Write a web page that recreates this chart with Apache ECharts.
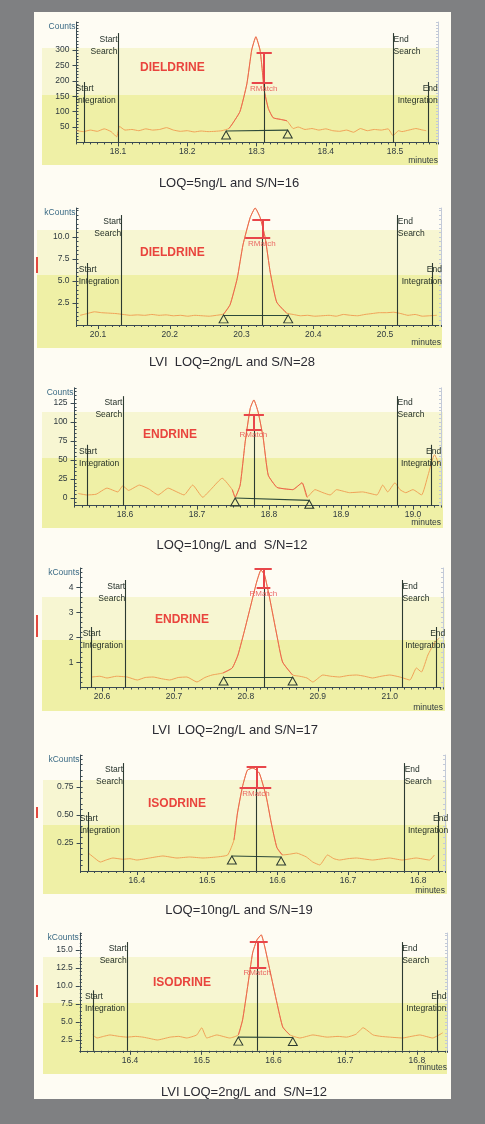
<!DOCTYPE html>
<html>
<head>
<meta charset="utf-8">
<script src="https://cdn.jsdelivr.net/npm/echarts@6/dist/echarts.min.js"></script>
<style>
html,body{margin:0;padding:0;background:#7f8082;}
#main{width:485px;height:1124px;}
</style>
</head>
<body>
<div id="main"></div>
<script>
// --- trace data (minutes / counts) ---
var time1 = [18.04,18.05,18.06,18.07,18.08,18.09,18.098,18.102,18.11,18.12,18.13,18.14,18.15,18.16,18.17,18.18,18.19,18.20,18.21,18.22,18.23,18.24,18.25,18.26,18.265,18.276,18.286,18.293,18.299,18.305,18.308,18.311,18.317,18.324,18.334,18.344,18.353,18.36,18.37,18.38,18.39,18.40,18.41,18.42,18.43,18.44,18.45,18.46,18.47,18.48,18.49,18.497,18.505,18.51,18.52,18.53,18.54,18.545];
var sig1 = [38,35,40,36,44,35,18,52,40,42,38,44,40,42,48,40,36,38,34,37,35,36,38,45,60,100,190,300,343,300,240,170,110,80,75,70,45,50,42,45,40,44,38,36,40,33,45,38,42,40,44,22,38,35,40,45,40,38];

var time2 = [20.075,20.085,20.095,20.105,20.115,20.125,20.135,20.145,20.155,20.165,20.175,20.185,20.195,20.205,20.215,20.225,20.235,20.245,20.255,20.265,20.275,20.284,20.294,20.302,20.312,20.319,20.326,20.333,20.340,20.349,20.363,20.372,20.382,20.392,20.402,20.412,20.422,20.432,20.442,20.452,20.462,20.472,20.482,20.492,20.502,20.512,20.522,20.532,20.542,20.552,20.562,20.572];
var sig2 = [1.1,1.3,1.5,1.4,1.35,1.3,1.2,1.1,1.15,1.1,1.2,1.1,1.15,1.05,1.1,1.0,1.1,1.05,1.0,1.1,1.25,2.3,5.3,9.1,12.2,13.3,12.2,9.9,6.0,2.6,1.35,1.2,1.05,1.1,1.0,1.05,1.1,1.0,1.2,1.1,1.05,1.2,1.3,1.4,1.4,1.45,1.3,1.1,1.2,1.0,1.05,1.1];

var time3 = [18.535,18.547,18.56,18.575,18.59,18.597,18.605,18.62,18.633,18.646,18.66,18.672,18.682,18.694,18.708,18.72,18.735,18.749,18.753,18.76,18.767,18.774,18.779,18.785,18.792,18.799,18.811,18.822,18.833,18.846,18.853,18.864,18.875,18.885,18.894,18.903,18.912,18.93,18.95,18.958,18.965,18.975,18.982,18.99,19.0,19.012,19.021,19.03,19.036];
var sig3 = [6,4,5,13,8,16,10,17,12,4,13,8,4,17,1,12,26,11,1,17,74,118,129,113,79,30,14,12,11,20,1,11,7,4,11,9,7,8,4,17,8,20,11,7,11,4,30,57,45];

var time4 = [20.586,20.597,20.607,20.62,20.635,20.649,20.66,20.671,20.683,20.694,20.706,20.718,20.732,20.743,20.753,20.768,20.781,20.789,20.799,20.808,20.815,20.821,20.826,20.833,20.843,20.851,20.865,20.875,20.885,20.893,20.907,20.918,20.93,20.942,20.954,20.965,20.976,20.988,21.0,21.014,21.028,21.037,21.044,21.053,21.063,21.069];
var sig4 = [0.42,0.45,0.38,0.45,0.42,0.3,0.4,0.42,0.35,0.3,0.4,0.42,0.22,0.4,0.5,0.58,0.78,1.3,2.38,3.42,4.22,4.7,4.5,3.58,2.1,1.02,0.5,0.45,0.38,0.22,0.5,0.45,0.42,0.48,0.5,0.45,0.38,0.45,0.5,0.42,0.3,0.78,0.62,1.3,1.82,1.98];

var time5 = [16.331,16.338,16.348,16.357,16.366,16.38,16.39,16.4,16.418,16.437,16.457,16.475,16.494,16.513,16.529,16.538,16.543,16.55,16.557,16.565,16.574,16.584,16.591,16.599,16.607,16.617,16.627,16.641,16.65,16.66,16.671,16.68,16.688,16.7,16.712,16.735,16.759,16.777,16.797,16.816,16.823];
var sig5 = [0.16,0.125,0.08,0.1,0.116,0.105,0.11,0.098,0.116,0.134,0.116,0.125,0.116,0.125,0.143,0.277,0.518,0.75,0.9,0.92,0.875,0.66,0.43,0.21,0.143,0.15,0.16,0.125,0.08,0.054,0.143,0.11,0.098,0.11,0.116,0.098,0.116,0.098,0.116,0.098,0.143];

var time6 = [16.348,16.354,16.363,16.372,16.385,16.396,16.408,16.418,16.428,16.438,16.456,16.468,16.479,16.493,16.5,16.507,16.521,16.539,16.551,16.557,16.564,16.571,16.577,16.583,16.588,16.595,16.605,16.613,16.623,16.637,16.655,16.675,16.69,16.702,16.715,16.725,16.739,16.75,16.762,16.78,16.792,16.804,16.822,16.836];
var sig6 = [3.2,2.78,3.0,3.2,3.0,2.9,3.0,2.9,2.7,2.5,2.9,3.0,2.78,3.2,4.2,2.78,3.2,2.78,3.2,5.3,9.9,14.6,16.4,17.1,15.4,12.2,7.6,4.3,3.2,2.78,3.2,2.9,3.0,2.9,3.3,4.2,3.2,3.0,2.9,2.78,3.0,3.2,2.78,3.5];

var traceTimes = [time1, time2, time3, time4, time5, time6];
var traceSignals = [sig1, sig2, sig3, sig4, sig5, sig6];

// texts
var compounds = ['DIELDRINE', 'DIELDRINE', 'ENDRINE', 'ENDRINE', 'ISODRINE', 'ISODRINE'];
var captions = ['LOQ=5ng/L and S/N=16', 'LVI  LOQ=2ng/L and S/N=28', 'LOQ=10ng/L and  S/N=12',
  'LVI  LOQ=2ng/L and S/N=17', 'LOQ=10ng/L and S/N=19', 'LVI LOQ=2ng/L and  S/N=12'];
var unitNames = ['Counts', 'kCounts', 'Counts', 'kCounts', 'kCounts', 'kCounts'];

// axes
var xMin = [18.04, 20.07, 18.53, 20.57, 16.32, 16.33];
var xMax = [18.562, 20.578, 19.039, 21.074, 16.838, 16.842];
var xTicks = [[18.1,18.2,18.3,18.4,18.5], [20.1,20.2,20.3,20.4,20.5], [18.6,18.7,18.8,18.9,19.0],
  [20.6,20.7,20.8,20.9,21.0], [16.4,16.5,16.6,16.7,16.8], [16.4,16.5,16.6,16.7,16.8]];
var yMin = [0, 0, -10, 0, 0, 1];
var yMax = [391, 13.3, 145, 4.78, 1.036, 17.36];
var yTicks = [[50,100,150,200,250,300], [2.5,5,7.5,10], [0,25,50,75,100,125],
  [1,2,3,4], [0.25,0.5,0.75], [2.5,5,7.5,10,12.5,15]];
var yDecimals = [0, 1, 0, 0, 2, 1];
var yMinorStep = [10, 0.5, 5, 0.2, 0.05, 0.5];

// integration / search events
var eventNames = ['Start\nIntegration', 'Start\nSearch', 'End\nSearch', 'End\nIntegration'];
var eventTimes = [[18.051,18.1,18.497,18.548], [20.085,20.133,20.517,20.566], [18.548,18.597,18.978,19.026],
  [20.585,20.633,21.017,21.064], [16.331,16.381,16.78,16.829], [16.349,16.396,16.779,16.828]];
var eventTops = [[196,355,355,196], [7.05,12.5,12.5,7.05], [70,134,134,70],
  [2.42,4.3,4.3,2.42], [0.527,0.964,0.964,0.527], [9.4,16.1,16.1,9.4]];

// peak identification marks
var peakTimes = [18.311, 20.329, 18.779, 20.825, 16.570, 16.578];
var markTop = [290, 12.0, 109, 4.74, 0.93, 16.1];
var markLow = [193, 9.9, 90, 3.98, 0.74, 12.6];
var topBar = [[18.300,18.322], [20.315,20.340], [18.765,18.793], [20.812,20.836], [16.556,16.584], [16.567,16.592]];
var lowBar = [[18.293,18.323], [20.305,20.340], [18.768,18.790], [20.815,20.834], [16.546,16.591], [16.567,16.590]];
var triTimes = [[18.256,18.345], [20.275,20.365], [18.753,18.856], [20.769,20.865], [16.535,16.605], [16.551,16.627]];
var triLevels = [[37,40], [1.15,1.15], [0,-3], [0.42,0.42], [0.134,0.125], [2.9,2.85]];

// --- layout (pixels) ---
var gridBox = [[76.5,438,22,142.4], [76.5,441,208,325], [74.6,441,387.8,505.6],
  [80.4,443,568,687.5], [80.6,445,755,871], [79.8,447,933,1050.8]];
var bandBox = [[48,95,165,42,438], [230,275,348,37,442], [412,458,528,42,443],
  [597,640,711,42,445], [780,825,894,43,447], [957,1003,1074,43,447]];
var titlePos = [[140,68], [140,253], [143,435], [155,620], [148,804], [153,983]];
var captionPos = [[229,183], [232,362], [232,545], [235,730], [239,910], [244,1092]];
var redMarks = [null, [257,273], null, [615,637], [807,818], [985,997]];
var minutesPad = [14, 13, 13, 16, 15, 12];

var font = '"Liberation Sans", Arial, sans-serif';
var dark = '#2c3a31';
var axisColor = '#3a4a52';
var eventLabelStyle = [
  { align: 'left', offset: [-8, 1] },
  { align: 'right', offset: [0, 1] },
  { align: 'left', offset: [1, 1] },
  { align: 'right', offset: [10, 1] }
];

var chart = echarts.init(document.getElementById('main'));
var grids = [], xAxes = [], yAxes = [], series = [], graphics = [];

graphics.push({ type: 'rect', z: -100, silent: true, shape: { x: 34, y: 12, width: 417, height: 1087 }, style: { fill: '#fefcf3' } });

for (var i = 0; i < 6; i++) {
  var g = gridBox[i];
  grids.push({ left: g[0], top: g[2], width: g[1] - g[0], height: g[3] - g[2], outerBoundsMode: 'none' });

  // x axis with minor ticks + labels
  xAxes.push({
    type: 'value', gridIndex: i, position: 'bottom', min: xMin[i], max: xMax[i], interval: 0.01,
    axisLine: { show: true, onZero: false, lineStyle: { color: axisColor, width: 1 } },
    axisTick: { show: true, length: 2, lineStyle: { color: axisColor } },
    axisLabel: { show: true, customValues: xTicks[i], fontSize: 8.5, margin: 5, color: '#2f3a40', fontFamily: font,
      formatter: function (v) { return v.toFixed(1); } },
    splitLine: { show: false }
  });
  // x axis major ticks + name
  xAxes.push({
    type: 'value', gridIndex: i, position: 'bottom', min: xMin[i], max: xMax[i],
    axisLine: { show: false, onZero: false },
    axisTick: { show: true, customValues: xTicks[i], length: 4, lineStyle: { color: axisColor } },
    axisLabel: { show: false }, splitLine: { show: false },
    name: 'minutes', nameLocation: 'end', nameGap: 0, nameMoveOverlap: false,
    nameTextStyle: { align: 'right', verticalAlign: 'top', padding: [minutesPad[i], 0, 0, 0], fontSize: 8.5, color: '#2f3a40', fontFamily: font }
  });

  (function (dec) {
    yAxes.push({
      type: 'value', gridIndex: i, position: 'left', min: yMin[i], max: yMax[i], interval: yMinorStep[i],
      axisLine: { show: true, onZero: false, lineStyle: { color: axisColor, width: 1 } },
      axisTick: { show: true, inside: true, length: 2, lineStyle: { color: axisColor } },
      axisLabel: { show: true, customValues: yTicks[i], fontSize: 8.5, margin: 7, color: '#2f3a40', fontFamily: font,
        formatter: function (v) { return v.toFixed(dec); } },
      splitLine: { show: false },
      name: unitNames[i], nameLocation: 'end', nameGap: -5, nameMoveOverlap: false,
      nameTextStyle: { align: 'right', verticalAlign: 'middle', padding: [0, 1, 0, 0], fontSize: 8.5, color: '#3b6b85', fontFamily: font }
    });
  })(yDecimals[i]);
  yAxes.push({
    type: 'value', gridIndex: i, position: 'left', min: yMin[i], max: yMax[i],
    axisLine: { show: false, onZero: false },
    axisTick: { show: true, customValues: yTicks[i], length: 4, lineStyle: { color: axisColor } },
    axisLabel: { show: false }, splitLine: { show: false }
  });
  yAxes.push({
    type: 'value', gridIndex: i, position: 'right', min: yMin[i], max: yMax[i], interval: yMinorStep[i],
    axisLine: { show: true, onZero: false, lineStyle: { color: '#c3cad8' } },
    axisTick: { show: true, inside: true, length: 2, lineStyle: { color: '#c3cad8' } },
    axisLabel: { show: false }, splitLine: { show: false }
  });

  var times = traceTimes[i], sigs = traceSignals[i];
  var pts = times.map(function (t, k) { return [t, sigs[k]]; });
  var peakPts = pts.filter(function (p) { return p[0] >= triTimes[i][0] - 0.004 && p[0] <= triTimes[i][1] + 0.004; });
  var ymn = yMin[i];

  var lines = eventTimes[i].map(function (t, k) {
    return [{ coord: [t, ymn] }, { coord: [t, eventTops[i][k]] }];
  });
  lines.push([{ coord: [triTimes[i][0], triLevels[i][0]], lineStyle: { color: '#2d4a3a', width: 1.2 } }, { coord: [triTimes[i][1], triLevels[i][1]] }]);
  lines.push([{ coord: [peakTimes[i], ymn] }, { coord: [peakTimes[i], markLow[i]] }]);

  var points = eventTimes[i].map(function (t, k) {
    return {
      coord: [t, eventTops[i][k]], symbol: 'rect', symbolSize: 1, itemStyle: { color: 'rgba(0,0,0,0)' },
      label: { show: true, formatter: eventNames[k], position: [0, 0], align: eventLabelStyle[k].align, verticalAlign: 'top',
        offset: eventLabelStyle[k].offset, fontSize: 8.5, lineHeight: 12, color: '#1f2b24', fontFamily: font }
    };
  });
  for (var j = 0; j < 2; j++) {
    points.push({
      coord: [triTimes[i][j], triLevels[i][j]], symbol: 'triangle', symbolSize: [9, 8], symbolOffset: [0, 4],
      itemStyle: { color: 'rgba(0,0,0,0)', borderColor: dark, borderWidth: 1 }, label: { show: false }
    });
  }

  series.push({
    type: 'line', xAxisIndex: 2 * i, yAxisIndex: 3 * i, data: pts, showSymbol: false, symbol: 'none',
    smooth: 0.15, lineStyle: { color: '#f0a258', width: 1 }, z: 3, silent: true,
    markLine: { silent: true, symbol: ['none', 'none'], label: { show: false }, emphasis: { disabled: true },
      lineStyle: { color: dark, width: 1.1, type: 'solid' }, data: lines },
    markPoint: { silent: true, data: points }
  });

  series.push({
    type: 'line', xAxisIndex: 2 * i, yAxisIndex: 3 * i, data: peakPts, showSymbol: false, symbol: 'none',
    smooth: 0.15, lineStyle: { color: '#ea5a4e', width: 1, opacity: 0.85 }, z: 4, silent: true,
    markLine: { silent: true, symbol: ['none', 'none'], label: { show: false }, emphasis: { disabled: true },
      lineStyle: { color: '#e8464a', width: 2, type: 'solid' },
      data: [
        [{ coord: [topBar[i][0], markTop[i]] }, { coord: [topBar[i][1], markTop[i]] }],
        [{ coord: [peakTimes[i], markTop[i]] }, { coord: [peakTimes[i], markLow[i]] }],
        [{ coord: [lowBar[i][0], markLow[i]] }, { coord: [lowBar[i][1], markLow[i]] }]
      ] },
    markPoint: { silent: true, data: [{
      coord: [peakTimes[i], markLow[i]], symbol: 'rect', symbolSize: 1, itemStyle: { color: 'rgba(0,0,0,0)' },
      label: { show: true, formatter: 'RMatch', position: [0, 0], align: 'center', verticalAlign: 'top', offset: [0, 2],
        fontSize: 8, color: 'rgba(232,80,80,0.85)', fontFamily: font }
    }] }
  });

  // decoration: highlighted bands, red margin marks, texts
  var b = bandBox[i];
  graphics.push({ type: 'rect', z: -90, silent: true, shape: { x: b[3], y: b[0], width: b[4] - b[3], height: b[1] - b[0] }, style: { fill: '#f7f6d2' } });
  graphics.push({ type: 'rect', z: -90, silent: true, shape: { x: b[3], y: b[1], width: b[4] - b[3], height: b[2] - b[1] }, style: { fill: '#eff0a6' } });
  if (redMarks[i]) {
    graphics.push({ type: 'rect', z: 10, silent: true, shape: { x: 36, y: redMarks[i][0], width: 2, height: redMarks[i][1] - redMarks[i][0] }, style: { fill: '#e2483e' } });
  }
  graphics.push({ type: 'text', z: 50, silent: true, x: titlePos[i][0], y: titlePos[i][1],
    style: { text: compounds[i], fill: '#e9443d', fontSize: 12, fontWeight: 'bold', fontFamily: font, align: 'left', verticalAlign: 'middle' } });
  graphics.push({ type: 'text', z: 50, silent: true, x: captionPos[i][0], y: captionPos[i][1],
    style: { text: captions[i], fill: '#2b2b33', fontSize: 13, fontFamily: font, align: 'center', verticalAlign: 'middle' } });
}

chart.setOption({
  backgroundColor: '#7f8082',
  animation: false,
  textStyle: { fontFamily: font },
  grid: grids,
  xAxis: xAxes,
  yAxis: yAxes,
  series: series,
  graphic: { elements: graphics }
});
</script>
</body>
</html>
